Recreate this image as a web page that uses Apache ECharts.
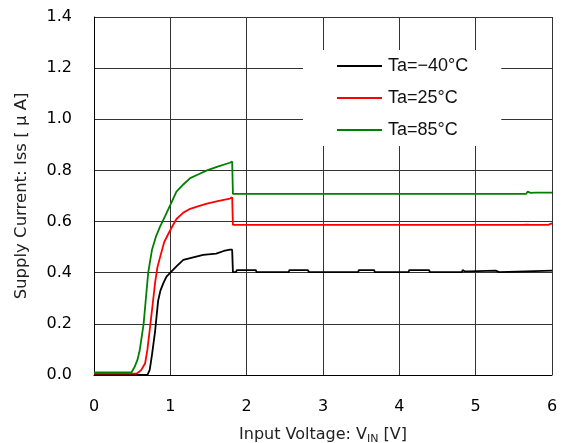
<!DOCTYPE html>
<html><head><meta charset="utf-8">
<script src="https://cdn.jsdelivr.net/npm/echarts@6/dist/echarts.min.js"></script>
<style>html,body{margin:0;padding:0;background:#fff}#c{width:564px;height:443px}</style>
</head><body><div id="c"></div>
<script>
var seriesNames = ['Ta=\u221240\u00b0C', 'Ta=25\u00b0C', 'Ta=85\u00b0C'];
var seriesColors = ['#000000', '#ff0000', '#008000'];
var xTicks = ['0','1','2','3','4','5','6'];
var yTicks = ['0.0','0.2','0.4','0.6','0.8','1.0','1.2','1.4'];

var vBlack = [0, 0.70, 0.72, 0.73, 0.76, 0.80, 0.82, 0.84, 0.87, 0.91, 0.95, 1.00, 1.08, 1.17, 1.30, 1.43, 1.60, 1.70, 1.78, 1.81, 1.82, 1.86, 1.87, 2.12, 2.13, 2.55, 2.56, 2.76, 2.78, 2.80, 2.82, 3.46, 3.47, 3.67, 3.68, 4.12, 4.13, 4.39, 4.40, 4.82, 4.83, 4.86, 4.88, 4.91, 4.93, 5.26, 5.28, 5.31, 5.32, 6.0];
var iBlack = [0, 0, 0.005, 0.02, 0.08, 0.17, 0.23, 0.29, 0.33, 0.36, 0.385, 0.40, 0.425, 0.45, 0.46, 0.47, 0.475, 0.485, 0.49, 0.49, 0.402, 0.402, 0.41, 0.41, 0.402, 0.402, 0.41, 0.41, 0.405, 0.41, 0.402, 0.402, 0.41, 0.41, 0.402, 0.402, 0.41, 0.41, 0.402, 0.402, 0.41, 0.405, 0.41, 0.405, 0.408, 0.408, 0.402, 0.402, 0.408, 0.408];

var vRed = [0, 0.55, 0.58, 0.62, 0.67, 0.70, 0.73, 0.77, 0.80, 0.83, 0.865, 0.92, 1.00, 1.08, 1.17, 1.26, 1.37, 1.48, 1.62, 1.78, 1.81, 1.82, 1.86, 3.0, 4.0, 5.0, 5.62, 5.64, 5.67, 5.69, 5.72, 5.95, 5.97, 6.0];
var iRed = [0.005, 0.005, 0.01, 0.02, 0.046, 0.10, 0.176, 0.28, 0.36, 0.42, 0.46, 0.52, 0.567, 0.61, 0.635, 0.65, 0.66, 0.67, 0.68, 0.69, 0.695, 0.587, 0.587, 0.587, 0.587, 0.587, 0.587, 0.593, 0.588, 0.593, 0.587, 0.587, 0.593, 0.593];

var vGreen = [0, 0.49, 0.53, 0.57, 0.60, 0.65, 0.68, 0.71, 0.76, 0.81, 0.865, 0.93, 1.00, 1.08, 1.17, 1.26, 1.37, 1.48, 1.62, 1.78, 1.81, 1.82, 1.86, 3.0, 4.0, 5.0, 5.66, 5.68, 5.72, 5.74, 5.78, 6.0];
var iGreen = [0.01, 0.01, 0.03, 0.06, 0.098, 0.20, 0.30, 0.40, 0.49, 0.54, 0.58, 0.62, 0.665, 0.717, 0.745, 0.77, 0.785, 0.80, 0.815, 0.83, 0.835, 0.708, 0.708, 0.708, 0.708, 0.708, 0.708, 0.717, 0.712, 0.717, 0.713, 0.713];

function pairs(xs, ys){ return xs.map(function(x,i){ return [x, ys[i]]; }); }
var seriesData = [pairs(vBlack, iBlack), pairs(vRed, iRed), pairs(vGreen, iGreen)];

var font = "'DejaVu Sans', sans-serif";
var lfont = "'Liberation Sans', Arial, sans-serif";
var chart = echarts.init(document.getElementById('c'), null, {renderer: 'canvas'});
chart.setOption({
  animation: false,
  backgroundColor: '#fff',
  grid: {left: 94, right: 12, top: 17, bottom: 68, containLabel: false, outerBoundsMode: 'none'},
  legend: {
    orient: 'vertical', left: 303, top: 50,
    backgroundColor: '#fff', padding: [7, 33, 7, 34],
    itemWidth: 45, itemHeight: 2, itemGap: 14, icon: 'rect',
    textStyle: {fontFamily: lfont, fontSize: 18, color: '#111', lineHeight: 18, padding: [0,0,0,1]},
    data: seriesNames
  },
  xAxis: {
    type: 'value', min: 0, max: 6, interval: 1,
    name: '{a|Input Voltage: V}{s|IN}{a| [V]}', nameLocation: 'middle', nameGap: 50,
    nameTextStyle: {rich: {a: {fontFamily: font, fontSize: 16, color: '#222'}, s: {fontFamily: font, fontSize: 11, color: '#222', verticalAlign: 'bottom', padding: [9,0,0,0]}}},
    axisLine: {show: true, lineStyle: {color: '#000', width: 1}},
    axisTick: {show: false},
    axisLabel: {margin: 24, fontFamily: font, fontSize: 16, color: '#000', formatter: function(v){ return xTicks[Math.round(v)]; }},
    splitLine: {show: true, lineStyle: {color: '#333', width: 1}}
  },
  yAxis: {
    type: 'value', min: 0, max: 1.4, interval: 0.2,
    name: 'Supply Current: Iss [ \u03bc A]', nameLocation: 'middle', nameGap: 64, nameRotate: 90,
    nameTextStyle: {fontFamily: font, fontSize: 16.5, color: '#222'},
    axisLine: {show: true, lineStyle: {color: '#000', width: 1}},
    axisTick: {show: false},
    axisLabel: {margin: 22, fontFamily: font, fontSize: 16, color: '#000', formatter: function(v){ return yTicks[Math.round(v/0.2)]; }},
    splitLine: {show: true, lineStyle: {color: '#333', width: 1}}
  },
  series: seriesNames.map(function(n, k){
    return {name: n, type: 'line', data: seriesData[k], showSymbol: false, symbol: 'none',
      lineStyle: {color: seriesColors[k], width: 1.8}, itemStyle: {color: seriesColors[k]}, z: 3 + k};
  })
});
</script></body></html>
